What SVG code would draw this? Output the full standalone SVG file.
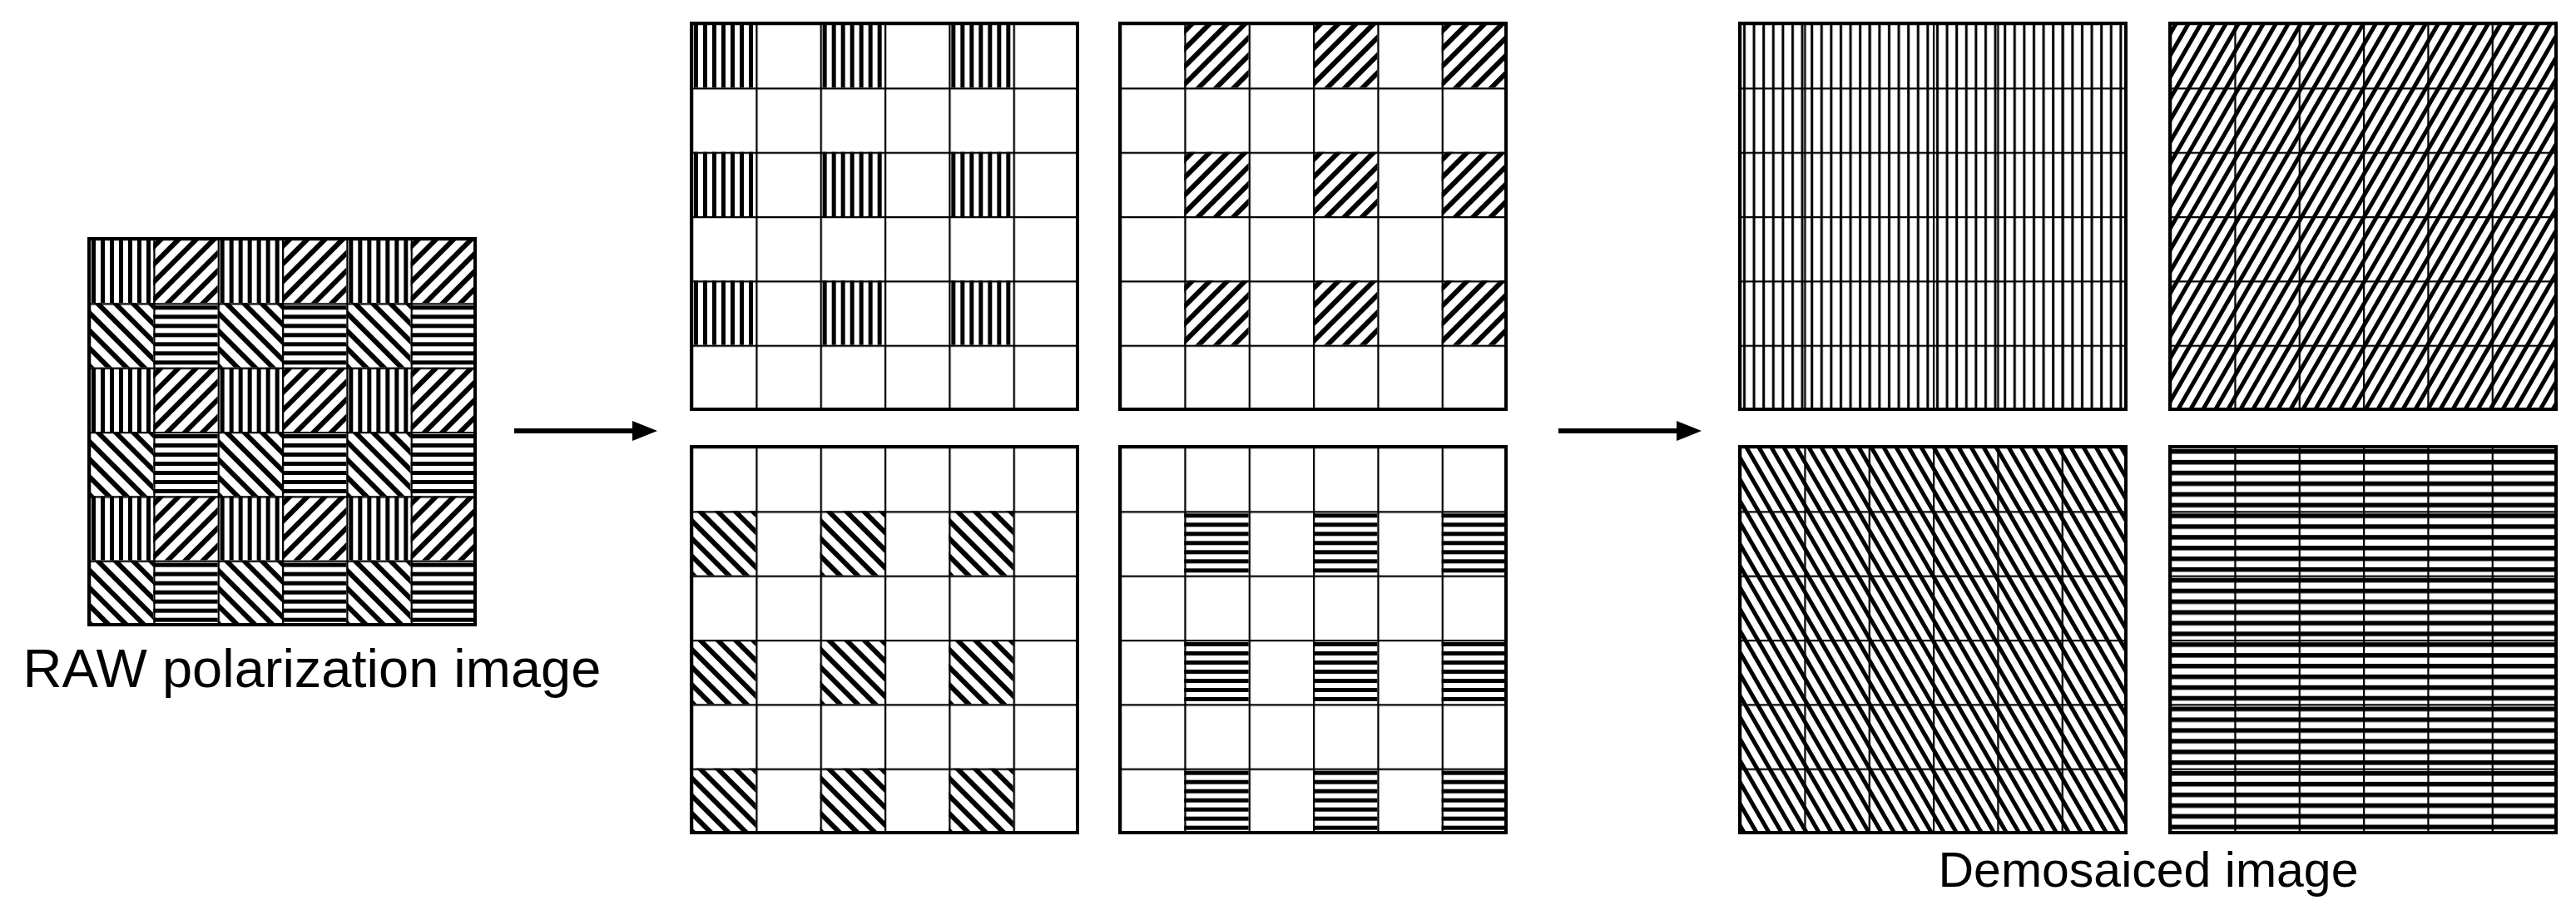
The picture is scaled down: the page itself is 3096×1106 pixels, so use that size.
<svg xmlns="http://www.w3.org/2000/svg" width="3096" height="1106" viewBox="0 0 3096 1106">
<style>
.lbl{font-family:"Liberation Sans",Arial,sans-serif;fill:#000;text-anchor:middle}
.frame{fill:none;stroke:#000;stroke-width:4}
.conn{stroke:#000;stroke-width:6;fill:none}
</style>
<defs>
<pattern id="pV" patternUnits="userSpaceOnUse" width="11" height="11"><rect width="11" height="11" fill="#fff"/><rect x="3" width="5" height="11" fill="#000"/></pattern>
<pattern id="pH" patternUnits="userSpaceOnUse" width="11" height="11"><rect width="11" height="11" fill="#fff"/><rect y="3" width="11" height="5" fill="#000"/></pattern>
<pattern id="pD1" patternUnits="userSpaceOnUse" width="15" height="15" patternTransform="rotate(45)"><rect width="15" height="15" fill="#fff"/><rect x="4" width="6" height="15" fill="#000"/></pattern>
<pattern id="pD2" patternUnits="userSpaceOnUse" width="15" height="15" patternTransform="rotate(-45)"><rect width="15" height="15" fill="#fff"/><rect x="4" width="6" height="15" fill="#000"/></pattern>
<pattern id="dV" patternUnits="userSpaceOnUse" width="11.6" height="20"><rect width="11.6" height="20" fill="#fff"/><rect x="4" width="3" height="20" fill="#000"/></pattern>
<pattern id="dD1" patternUnits="userSpaceOnUse" width="13" height="13" patternTransform="rotate(30)"><rect width="13" height="13" fill="#fff"/><rect x="4" width="5" height="13" fill="#000"/></pattern>
<pattern id="dD2" patternUnits="userSpaceOnUse" width="13" height="13" patternTransform="rotate(-30)"><rect width="13" height="13" fill="#fff"/><rect x="4" width="5" height="13" fill="#000"/></pattern>
<pattern id="dH" patternUnits="userSpaceOnUse" width="20" height="12.9"><rect width="20" height="12.9" fill="#fff"/><rect y="3" width="20" height="5.5" fill="#000"/></pattern>
<pattern id="grid" patternUnits="userSpaceOnUse" width="77.33" height="77.33"><path d="M0 0H77.33M0 0V77.33" stroke="#000" stroke-width="4.5" fill="none"/></pattern>
<g id="c"><rect width="77.33" height="77.33"/></g>
</defs>
<rect width="3096" height="1106" fill="#fff"/>

<g id="raw" transform="translate(107,287)">
<g fill="url(#pV)"><use href="#c" x="0" y="0"/><use href="#c" x="154.67" y="0"/><use href="#c" x="309.33" y="0"/><use href="#c" x="0" y="154.67"/><use href="#c" x="154.67" y="154.67"/><use href="#c" x="309.33" y="154.67"/><use href="#c" x="0" y="309.33"/><use href="#c" x="154.67" y="309.33"/><use href="#c" x="309.33" y="309.33"/></g>
<g fill="url(#pD1)"><use href="#c" x="77.33" y="0"/><use href="#c" x="232" y="0"/><use href="#c" x="386.67" y="0"/><use href="#c" x="77.33" y="154.67"/><use href="#c" x="232" y="154.67"/><use href="#c" x="386.67" y="154.67"/><use href="#c" x="77.33" y="309.33"/><use href="#c" x="232" y="309.33"/><use href="#c" x="386.67" y="309.33"/></g>
<g fill="url(#pD2)"><use href="#c" x="0" y="77.33"/><use href="#c" x="154.67" y="77.33"/><use href="#c" x="309.33" y="77.33"/><use href="#c" x="0" y="232"/><use href="#c" x="154.67" y="232"/><use href="#c" x="309.33" y="232"/><use href="#c" x="0" y="386.67"/><use href="#c" x="154.67" y="386.67"/><use href="#c" x="309.33" y="386.67"/></g>
<g fill="url(#pH)"><use href="#c" x="77.33" y="77.33"/><use href="#c" x="232" y="77.33"/><use href="#c" x="386.67" y="77.33"/><use href="#c" x="77.33" y="232"/><use href="#c" x="232" y="232"/><use href="#c" x="386.67" y="232"/><use href="#c" x="77.33" y="386.67"/><use href="#c" x="232" y="386.67"/><use href="#c" x="386.67" y="386.67"/></g>
<rect width="464" height="464" fill="url(#grid)"/>
<rect class="frame" width="464" height="464"/>
<text class="lbl" x="268" y="539" font-size="65">RAW polarization image</text>
</g>

<g id="sparseV" transform="translate(831,28)">
<rect width="464" height="464" fill="#fff"/>
<g fill="url(#pV)"><use href="#c" x="0" y="0"/><use href="#c" x="154.67" y="0"/><use href="#c" x="309.33" y="0"/><use href="#c" x="0" y="154.67"/><use href="#c" x="154.67" y="154.67"/><use href="#c" x="309.33" y="154.67"/><use href="#c" x="0" y="309.33"/><use href="#c" x="154.67" y="309.33"/><use href="#c" x="309.33" y="309.33"/></g>
<rect width="464" height="464" fill="url(#grid)"/>
<rect class="frame" width="464" height="464"/>
</g>

<g id="sparseD1" transform="translate(1346,28)">
<rect width="464" height="464" fill="#fff"/>
<g fill="url(#pD1)"><use href="#c" x="77.33" y="0"/><use href="#c" x="232" y="0"/><use href="#c" x="386.67" y="0"/><use href="#c" x="77.33" y="154.67"/><use href="#c" x="232" y="154.67"/><use href="#c" x="386.67" y="154.67"/><use href="#c" x="77.33" y="309.33"/><use href="#c" x="232" y="309.33"/><use href="#c" x="386.67" y="309.33"/></g>
<rect width="464" height="464" fill="url(#grid)"/>
<rect class="frame" width="464" height="464"/>
</g>

<g id="sparseD2" transform="translate(831,537)">
<rect width="464" height="464" fill="#fff"/>
<g fill="url(#pD2)"><use href="#c" x="0" y="77.33"/><use href="#c" x="154.67" y="77.33"/><use href="#c" x="309.33" y="77.33"/><use href="#c" x="0" y="232"/><use href="#c" x="154.67" y="232"/><use href="#c" x="309.33" y="232"/><use href="#c" x="0" y="386.67"/><use href="#c" x="154.67" y="386.67"/><use href="#c" x="309.33" y="386.67"/></g>
<rect width="464" height="464" fill="url(#grid)"/>
<rect class="frame" width="464" height="464"/>
</g>

<g id="sparseH" transform="translate(1346,537)">
<rect width="464" height="464" fill="#fff"/>
<g fill="url(#pH)"><use href="#c" x="77.33" y="77.33"/><use href="#c" x="232" y="77.33"/><use href="#c" x="386.67" y="77.33"/><use href="#c" x="77.33" y="232"/><use href="#c" x="232" y="232"/><use href="#c" x="386.67" y="232"/><use href="#c" x="77.33" y="386.67"/><use href="#c" x="232" y="386.67"/><use href="#c" x="386.67" y="386.67"/></g>
<rect width="464" height="464" fill="url(#grid)"/>
<rect class="frame" width="464" height="464"/>
</g>

<g id="demV" transform="translate(2091,28)">
<rect width="464" height="464" fill="url(#dV)"/>
<rect width="464" height="464" fill="url(#grid)"/>
<rect class="frame" width="464" height="464"/>
</g>
<g id="demD1" transform="translate(2608,28)">
<rect width="464" height="464" fill="url(#dD1)"/>
<rect width="464" height="464" fill="url(#grid)"/>
<rect class="frame" width="464" height="464"/>
</g>
<g id="demD2" transform="translate(2091,537)">
<rect width="464" height="464" fill="url(#dD2)"/>
<rect width="464" height="464" fill="url(#grid)"/>
<rect class="frame" width="464" height="464"/>
</g>
<g id="demH" transform="translate(2608,537)">
<rect width="464" height="464" fill="url(#dH)"/>
<rect width="464" height="464" fill="url(#grid)"/>
<rect class="frame" width="464" height="464"/>
</g>
<text id="demLabel" class="lbl" x="2582" y="1066" font-size="59">Demosaiced image</text>

<g id="connectors">
<line class="conn" x1="618" y1="518" x2="765" y2="518"/>
<polygon points="790,518 760,506 760,530"/>
<line class="conn" x1="1873" y1="518" x2="2020" y2="518"/>
<polygon points="2045,518 2015,506 2015,530"/>
</g>
</svg>
